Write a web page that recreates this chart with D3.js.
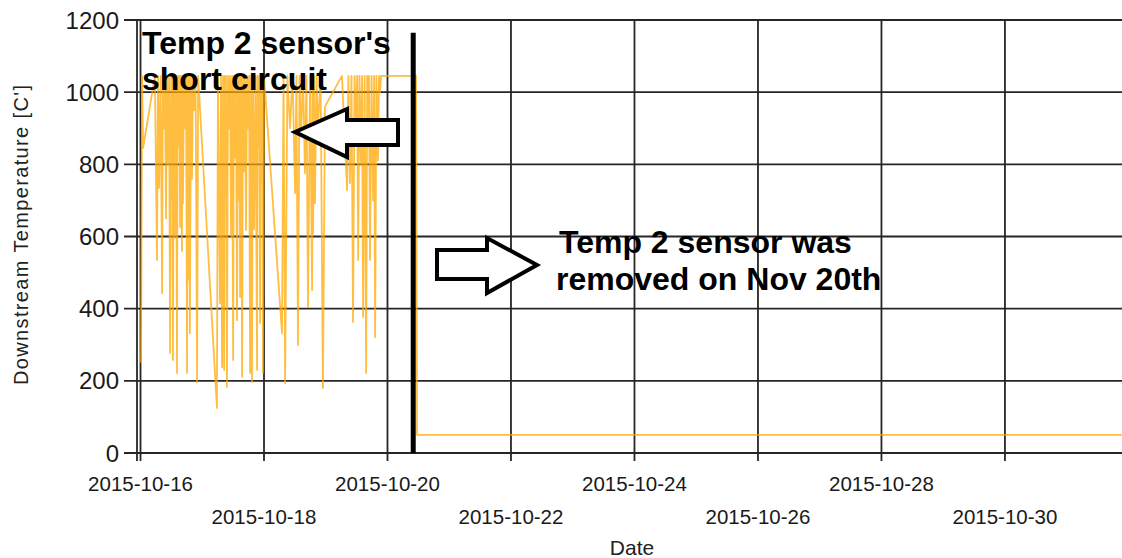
<!DOCTYPE html>
<html>
<head>
<meta charset="utf-8">
<script src="https://cdn.jsdelivr.net/npm/d3@7.9.0/dist/d3.min.js"></script>
<style>
  html, body { margin: 0; padding: 0; background: #fff; }
  svg { display: block; font-family: "Liberation Sans", Arial, sans-serif; }
</style>
</head>
<body>
<svg id="chart" width="1122" height="558"></svg>
<script>
// readings: hours after 2015-10-16 00:00, downstream temperature (C)
const readingHours = [
  0.2, 0.6, 1.0, 5.6, 6.4, 6.8, 7.2, 7.8, 8.4, 8.7, 9.1, 9.5, 9.9, 10.3, 10.7, 11.1,
  11.5, 11.9, 12.2, 12.4, 12.6, 13.0, 13.4, 13.8, 14.2, 14.4, 14.6, 15.0, 15.4, 15.7,
  16.1, 16.3, 16.5, 16.9, 17.3, 17.7, 18.1, 18.3, 18.5, 18.9, 19.2, 19.6, 20.0, 20.4,
  20.8, 21.4, 22.0, 22.4, 29.7, 30.1, 30.9, 31.3, 31.7, 32.1, 32.5, 32.7, 32.9, 33.2,
  33.6, 34.0, 34.4, 34.8, 35.2, 35.6, 36.0, 36.3, 36.7, 37.1, 37.5, 37.9, 38.3, 38.5,
  38.7, 39.1, 39.5, 39.8, 40.2, 40.6, 41.0, 41.4, 41.8, 42.2, 42.6, 43.0, 43.3, 43.7,
  44.1, 44.7, 45.3, 45.5, 45.7, 46.1, 46.5, 46.8, 47.2, 47.4, 47.6, 48.0, 55.0, 55.6,
  56.2, 57.1, 58.1, 59.1, 60.1, 60.6, 61.2, 61.8, 62.4, 63.2, 63.9, 64.5, 65.1, 65.9,
  66.7, 66.9, 67.1, 67.4, 67.8, 68.4, 69.0, 70.0, 70.9, 71.7, 78.3, 80.3, 80.8, 81.4,
  82.0, 82.6, 83.2, 83.8, 84.2, 84.6, 85.1, 85.7, 86.1, 86.5, 87.1, 87.7, 88.1, 88.4,
  88.8, 89.2, 89.8, 90.4, 90.8, 91.2, 91.7, 92.3, 92.7, 93.1, 93.5, 107.1, 107.5, 381.5
];
const readingTemps = [
  250, 1045, 845, 1045, 535, 1045, 735, 1045, 443, 1045, 900, 1045, 650, 1045, 800, 1045,
  277, 1045, 700, 1045, 258, 1045, 600, 1045, 222, 1045, 850, 1045, 626, 1045,
  560, 1045, 692, 1045, 900, 1045, 222, 1045, 480, 1045, 332, 1045, 760, 1045,
  950, 1045, 196, 1045, 125, 1045, 415, 1045, 238, 1045, 230, 1045, 710, 1045,
  183, 1045, 900, 1045, 600, 1045, 258, 1045, 820, 1045, 368, 1045, 700, 1045,
  432, 1045, 211, 1045, 780, 1045, 618, 1045, 900, 1045, 222, 1045, 197, 1045,
  620, 1045, 230, 1045, 850, 1045, 360, 1045, 750, 1045, 222, 1045, 332, 1045,
  194, 1045, 900, 1045, 720, 1045, 299, 1045, 880, 1045, 776, 1045, 404, 1045,
  451, 1045, 609, 1045, 692, 1045, 900, 1045, 180, 960, 1045, 728, 1045, 748,
  1045, 363, 1045, 900, 1045, 535, 1045, 800, 1045, 377, 1045, 222, 1045, 850,
  1045, 535, 1045, 700, 1045, 321, 1045, 811, 1045, 1000, 1045, 1045, 50, 50
];

const yTicks = [0, 200, 400, 600, 800, 1000, 1200];
const xTickDates = ["2015-10-16", "2015-10-18", "2015-10-20", "2015-10-22",
                    "2015-10-24", "2015-10-26", "2015-10-28", "2015-10-30"];
const removalDate = "2015-10-20T10:00";
const removalTop = 1165;

const shortCircuitNote = ["Temp 2 sensor's", "short circuit"];
const removedNote = ["Temp 2 sensor was", "removed on Nov 20th"];

const parseDay = d3.timeParse("%Y-%m-%d");
const parseHour = d3.timeParse("%Y-%m-%dT%H:%M");
const t0 = parseDay("2015-10-16");
const series = readingHours.map((h, i) => ({ date: d3.timeMinute.offset(t0, Math.round(h * 60)), value: readingTemps[i] }));

const svg = d3.select("#chart");
const plotLeft = 137, plotRight = 1122, plotTop = 20, plotBottom = 453;

const x = d3.scaleTime()
  .domain([parseHour("2015-10-15T22:38"), parseHour("2015-10-31T21:30")])
  .range([plotLeft, plotRight]);
const y = d3.scaleLinear().domain([0, 1200]).range([plotBottom, plotTop]);

const gridColor = "#262626";

// horizontal grid + y ticks
svg.append("g").selectAll("line").data(yTicks).join("line")
  .attr("x1", plotLeft - 13).attr("x2", plotRight)
  .attr("y1", d => y(d)).attr("y2", d => y(d))
  .attr("stroke", gridColor).attr("stroke-width", 1.8);

// vertical grid + x ticks
svg.append("g").selectAll("line").data(xTickDates).join("line")
  .attr("x1", d => x(parseDay(d))).attr("x2", d => x(parseDay(d)))
  .attr("y1", plotTop).attr("y2", plotBottom + 8)
  .attr("stroke", gridColor).attr("stroke-width", 1.8);

// y axis line
svg.append("line")
  .attr("x1", plotLeft).attr("x2", plotLeft).attr("y1", plotTop).attr("y2", plotBottom + 8)
  .attr("stroke", gridColor).attr("stroke-width", 1.8);

// y tick labels
svg.append("g").selectAll("text").data(yTicks).join("text")
  .attr("x", plotLeft - 18).attr("y", d => y(d) + 8.5)
  .attr("text-anchor", "end").attr("font-size", 24).attr("fill", "#1a1a1a")
  .text(d => d);

// x tick labels, staggered in two rows
svg.append("g").selectAll("text").data(xTickDates).join("text")
  .attr("x", d => x(parseDay(d)))
  .attr("y", (d, i) => i % 2 === 0 ? 491 : 524)
  .attr("text-anchor", "middle").attr("font-size", 20.5).attr("fill", "#1a1a1a")
  .text(d => d);

// axis titles
svg.append("text")
  .attr("transform", `translate(28, 235) rotate(-90)`)
  .attr("text-anchor", "middle").attr("font-size", 20).attr("fill", "#222")
  .attr("textLength", 300).attr("lengthAdjust", "spacing")
  .text("Downstream Temperature [C']");
svg.append("text")
  .attr("x", 632).attr("y", 555)
  .attr("text-anchor", "middle").attr("font-size", 21).attr("fill", "#222")
  .text("Date");

// the temperature trace
const line = d3.line().x(d => x(d.date)).y(d => y(d.value));
svg.append("path")
  .datum(series)
  .attr("d", line)
  .attr("fill", "none")
  .attr("stroke", "#ffa800")
  .attr("stroke-opacity", 0.75)
  .attr("stroke-width", 1.8)
  .attr("stroke-linejoin", "round");

// sensor removal marker
svg.append("line")
  .attr("x1", x(parseHour(removalDate))).attr("x2", x(parseHour(removalDate)))
  .attr("y1", y(removalTop)).attr("y2", plotBottom)
  .attr("stroke", "#000").attr("stroke-width", 5);

// annotations
const noteStyle = sel => sel.attr("font-size", 32).attr("font-weight", "bold").attr("fill", "#000");
svg.append("g").selectAll("text").data(shortCircuitNote).join("text")
  .call(noteStyle)
  .attr("x", 142).attr("y", (d, i) => 54 + i * 36)
  .text(d => d);
svg.append("g").selectAll("text").data(removedNote).join("text")
  .call(noteStyle)
  .attr("x", (d, i) => i === 0 ? 559 : 556).attr("y", (d, i) => 253 + i * 37)
  .text(d => d);

// block arrows
const leftArrow = [[295, 132], [347, 109], [347, 120], [398, 120], [398, 145], [347, 145], [347, 157]];
const rightArrow = [[437, 250], [487, 250], [487, 238], [537, 265], [487, 293], [487, 279], [437, 279]];
[leftArrow, rightArrow].forEach(pts => {
  svg.append("path")
    .attr("d", d3.line()(pts) + "Z")
    .attr("fill", "#fff")
    .attr("stroke", "#000")
    .attr("stroke-width", 4)
    .attr("stroke-linejoin", "miter");
});
</script>
</body>
</html>
